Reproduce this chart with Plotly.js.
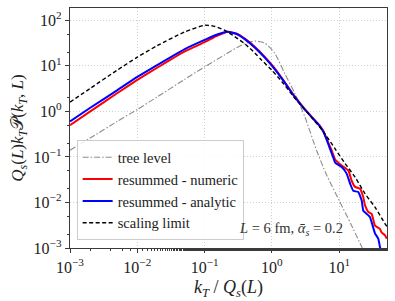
<!DOCTYPE html>
<html>
<head>
<meta charset="utf-8">
<script src="https://cdn.plot.ly/plotly-3.0.1.min.js"></script>
<style>html,body{margin:0;padding:0;background:#fff;}#chart{width:395px;height:301px;}</style>
</head>
<body>
<div id="chart"></div>
<script>
// tree level
var kTree = [0.001, 0.002, 0.005, 0.01, 0.02, 0.05, 0.1, 0.2, 0.3, 0.4, 0.56, 0.79, 1.1, 1.56, 2.2, 3.1, 4.6, 6.5, 10, 15, 22];
var vTree = [0.14, 0.26, 0.6, 1.1, 2.1, 5.0, 9.5, 17.5, 25, 31, 35, 31.6, 19, 6.7, 2.45, 0.75, 0.14, 0.04, 0.011, 0.0033, 0.001];
// resummed - numeric
var kNum = [0.001, 0.002, 0.005, 0.01, 0.02, 0.05, 0.1, 0.15, 0.22, 0.3, 0.4, 0.56, 0.79, 1.1, 1.5, 2.1, 3.0, 4.1, 5.0, 5.8, 6.5, 7.7, 8.7, 10.9, 13.7, 15.3, 17.2, 20.4, 22.8, 24.2, 27, 30.3, 34, 40.4, 42.6, 48, 51];
var vNum = [0.5, 1.0, 2.5, 4.9, 9.2, 20.5, 33, 45, 56, 51, 39, 26, 15.5, 8.8, 4.7, 2.3, 1.18, 0.7, 0.51, 0.37, 0.25, 0.14, 0.088, 0.065, 0.05, 0.030, 0.022, 0.020, 0.013, 0.0086, 0.0062, 0.0056, 0.0031, 0.0026, 0.0022, 0.0019, 0.0016];
// resummed - analytic
var kAna = [0.001, 0.002, 0.005, 0.01, 0.02, 0.05, 0.1, 0.15, 0.22, 0.3, 0.4, 0.56, 0.79, 1.1, 1.5, 2.1, 3.0, 4.1, 5.0, 5.8, 6.5, 7.3, 8.2, 8.7, 10.9, 12.9, 14.5, 16.2, 19.2, 21.6, 22.8, 25.7, 28.6, 30.3, 34, 38, 40.4, 43];
var vAna = [0.6, 1.2, 2.9, 5.7, 10.5, 23, 37, 48, 56, 50, 38, 25, 15, 8.5, 4.6, 2.25, 1.15, 0.69, 0.5, 0.36, 0.24, 0.15, 0.095, 0.075, 0.06, 0.043, 0.026, 0.018, 0.017, 0.011, 0.0066, 0.0056, 0.0048, 0.0037, 0.0021, 0.0016, 0.00104, 0.0007];
// scaling limit
var kScale = [0.001, 0.002, 0.005, 0.01, 0.02, 0.05, 0.1, 0.143, 0.2, 0.28, 0.4, 0.56, 0.7, 1.0, 1.5, 2.1, 3.0, 4.0, 5.8, 8.7, 12.2, 17.2, 24.2, 34, 48, 51];
var vScale = [1.6, 3.2, 8.0, 15.5, 28, 55, 78, 73, 60, 44, 30, 19, 13.5, 8.0, 4.0, 2.1, 1.15, 0.7, 0.36, 0.15, 0.072, 0.036, 0.0155, 0.0079, 0.0034, 0.003];

var tickVals = [0.001, 0.01, 0.1, 1, 10, 100];
var tickText = ['10<sup>−3</sup>','10<sup>−2</sup>','10<sup>−1</sup>','10<sup>0</sup>','10<sup>1</sup>','10<sup>2</sup>'];

var FONT = '"Liberation Serif", "DejaVu Serif", serif';

var traces = [
  {x: kTree, y: vTree, mode: 'lines', name: 'tree level',
   line: {color: '#8c8c8c', width: 1.1, dash: '6px,2px,1.5px,2px', shape: 'spline', smoothing: 0.6}},
  {x: kNum, y: vNum, mode: 'lines', name: 'resummed - numeric',
   line: {color: '#ff0000', width: 2, shape: 'spline', smoothing: 0.4}},
  {x: kAna, y: vAna, mode: 'lines', name: 'resummed - analytic',
   line: {color: '#0000ff', width: 2, shape: 'spline', smoothing: 0.4}},
  {x: kScale, y: vScale, mode: 'lines', name: 'scaling limit',
   line: {color: '#000000', width: 1.4, dash: '4px,2.5px', shape: 'spline', smoothing: 0.6}}
];

var axisCommon = {
  type: 'log',
  showline: true, mirror: true, linecolor: '#3a3a3a', linewidth: 1.3,
  ticks: 'outside', ticklen: 4, tickwidth: 1, tickcolor: '#3a3a3a',
  showgrid: true, gridcolor: '#d0d0d0', griddash: '1px,2px', gridwidth: 1,
  zeroline: false,
  tickfont: {family: FONT, size: 16, color: '#222'},
  minor: {ticks: 'outside', ticklen: 2, tickcolor: '#3a3a3a', showgrid: false}
};

var layout = {
  width: 395, height: 301,
  margin: {l: 70, r: 8, t: 8, b: 53},
  paper_bgcolor: '#ffffff', plot_bgcolor: '#ffffff',
  showlegend: true,
  font: {family: FONT, color: '#222'},
  xaxis: Object.assign({}, axisCommon, {
    range: [-3, 1.71], tickvals: tickVals, ticktext: tickText,
    title: {text: '<i>k<sub>T</sub></i> / <i>Q<sub>s</sub></i>(<i>L</i>)', font: {family: FONT, size: 18, color: '#222'}, standoff: 6}
  }),
  yaxis: Object.assign({}, axisCommon, {
    range: [-3, 2.27], tickvals: tickVals, ticktext: tickText,
    title: {text: '<i>Q<sub>s</sub></i>(<i>L</i>)<i>k<sub>T</sub></i>𝒫(<i>k<sub>T</sub></i>, <i>L</i>)', font: {family: FONT, size: 17, color: '#222'}, standoff: 5}
  }),
  legend: {
    x: 0.021, y: 0.032, xanchor: 'left', yanchor: 'bottom',
    bgcolor: 'rgba(255,255,255,0.85)', bordercolor: '#cccccc', borderwidth: 1,
    font: {family: FONT, size: 14.5, color: '#222'},
    itemwidth: 30, tracegroupgap: 0
  },
  annotations: [{
    xref: 'paper', yref: 'paper', x: 0.867, y: 0.078, xanchor: 'right', yanchor: 'middle',
    text: '<i>L</i> = 6 fm, <i>ᾱ<sub>s</sub></i> = 0.2', showarrow: false,
    font: {family: FONT, size: 14.5, color: '#333'}
  }]
};

Plotly.newPlot('chart', traces, layout, {displayModeBar: false, staticPlot: true});
</script>
</body>
</html>
